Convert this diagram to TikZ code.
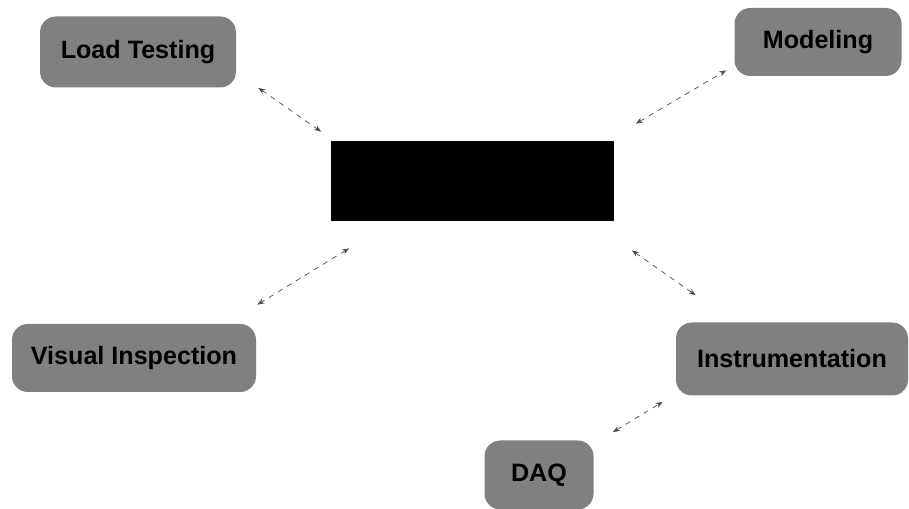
\documentclass[tikz,border=0pt]{standalone}
\usepackage{fontspec}
\setmainfont{Liberation Sans}
\usetikzlibrary{arrows.meta}
\begin{document}
\begin{tikzpicture}[x=0.02cm,y=-0.02cm,
  every node/.style={font=\bfseries\fontsize{14.3}{16}\selectfont},
  task/.style={fill=black!50,rounded corners=9pt,inner sep=0pt},
  link/.style={draw=black!70,dashed,thin,{Stealth[length=4pt,width=3pt]}-{Stealth[length=4pt,width=3pt]}}]
  \useasboundingbox (0,0) rectangle (909,509);
  % Centre
  \node[fill=black,minimum width=283*0.02cm,minimum height=80*0.02cm,inner sep=0pt] (core) at (472,181) {};
  % Top row
  \node[task,minimum width=196*0.02cm,minimum height=71*0.02cm] (lt) at (138,52) {Load Testing};
  \node[task,minimum width=167*0.02cm,minimum height=68*0.02cm] (mod) at (818,42) {Modeling};
  % Bottom row
  \node[task,minimum width=244*0.02cm,minimum height=68*0.02cm] (vis) at (134,358) {Visual Inspection};
  \node[task,minimum width=232*0.02cm,minimum height=73*0.02cm] (ins) at (792,359) {Instrumentation};
  \node[task,minimum width=109*0.02cm,minimum height=69*0.02cm] (daq) at (539,475) {DAQ};
  % Links
  \foreach \from/\fs/\to/\ts in {
    lt.south east/{22,0}/core.north west/{-9,-9},
    core.north east/{22,-17}/mod.south west/{-8,-6},
    core.south west/{19,27}/vis.north east/{1,-19},
    core.south east/{18,29}/ins.north west/{20,-27},
    daq.north east/{19,-8}/ins.south west/{-13,6}}
    \draw[link] ([shift={(\fs)}]\from)--([shift={(\ts)}]\to);
\end{tikzpicture}
\end{document}
